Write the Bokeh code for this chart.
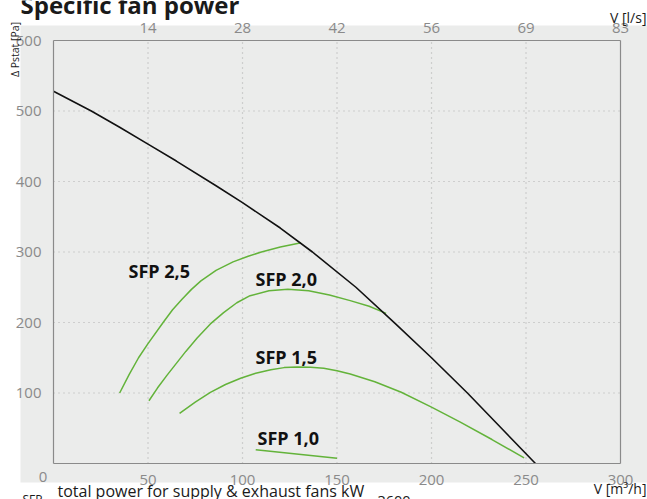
from math import pi
from bokeh.plotting import figure
from bokeh.models import Label, BoxAnnotation, LinearAxis, FixedTicker, Range1d, ColumnDataSource
from bokeh.core.properties import value
from bokeh.embed import file_html
from bokeh.resources import INLINE

# ---------------- data ----------------
x_min, x_max = 0, 300          # m3/h axis extent
y_min, y_max = 0, 600          # Pa axis extent
x_ticks = [50, 100, 150, 200, 250, 300]
x_tick_labels = ["50", "100", "150", "200", "250", "300"]
top_tick_labels = ["14", "28", "42", "56", "69", "83"]   # l/s
y_ticks = [100, 200, 300, 400, 500, 600]

fan_x = [0, 20, 35, 50, 65, 86, 100, 120, 137, 160, 181, 200, 219, 237, 255]
fan_y = [528, 500, 477, 453, 429, 394, 370, 334, 300, 250, 198, 150, 100, 50, 0]

sfp25_x = [35, 40, 45, 50, 58, 63, 68, 73, 78, 86, 95, 103, 110, 120, 131]
sfp25_y = [100, 126, 150, 170, 200, 218, 233, 247, 259, 274, 286, 294, 300, 307, 313]

sfp20_x = [50.5, 55, 60, 65, 70, 76, 83, 90, 97, 104, 114, 124, 135, 146, 157, 167, 176]
sfp20_y = [89, 107, 125, 142, 159, 178, 198, 214, 228, 238, 245, 247, 245, 239, 231, 223, 213]

sfp15_x = [66.7, 75, 83, 91, 99, 107, 115, 122, 129, 136, 143, 150, 157, 170, 184, 200, 215, 232, 249]
sfp15_y = [71, 87, 101, 112, 121, 128, 133, 136, 137, 136.5, 135, 131.5, 127, 116, 101, 80, 59, 34, 8]

sfp10_x = [107, 150]
sfp10_y = [19.5, 7.5]

sfp_names = ["SFP 2,5", "SFP 2,0", "SFP 1,5", "SFP 1,0"]

# ---------------- layout helpers (page pixels -> data) ----------------
W, H = 647, 499
FL, FR, FT, FB = 53, 620, 40, 463   # plot box edges in page pixels


def dx(px):
    return x_min + (px - FL) * (x_max - x_min) / (FR - FL)


def dy(py):
    return y_min + (FB - py) * (y_max - y_min) / (FB - FT)


BG = "#ebeceb"
GREEN = "#63b33a"
TICK_COLOR = "#8a8a8a"
BOX_COLOR = "#8a8a8a"
FONT = "Open Sans"

p = figure(width=W, height=H, x_range=Range1d(dx(0), dx(W)), y_range=Range1d(dy(H), dy(0)),
           output_backend="svg", toolbar_location=None,
           min_border=0, x_axis_location=None, y_axis_location=None)
p.border_fill_color = "white"
p.background_fill_color = "white"
p.outline_line_color = None
p.xgrid.visible = False
p.ygrid.visible = False

# gray panel behind the chart
p.add_layout(BoxAnnotation(left=dx(20), right=dx(W + 5), top=dy(25), bottom=dy(482),
                           fill_color=BG, fill_alpha=1.0, line_color=None, level="image"))

# grid (dotted), limited to the plot box
gx = x_ticks[:-1]
gy = y_ticks[:-1]
p.segment(x0=gx, x1=gx, y0=[y_min] * len(gx), y1=[y_max] * len(gx),
          line_color="#b0b0b0", line_dash="1 4", line_width=1.2, level="underlay")
p.segment(x0=[x_min] * len(gy), x1=[x_max] * len(gy), y0=gy, y1=gy,
          line_color="#b0b0b0", line_dash="1 4", line_width=1.2, level="underlay")


def style_axis(ax, standoff):
    ax.axis_line_color = BOX_COLOR
    ax.axis_line_width = 1.2
    ax.major_tick_line_color = None
    ax.minor_tick_line_color = None
    ax.major_label_text_font = FONT
    ax.major_label_text_font_size = "15px"
    ax.major_label_text_color = TICK_COLOR
    ax.major_label_standoff = standoff


left = LinearAxis(ticker=FixedTicker(ticks=y_ticks), fixed_location=x_min, bounds=(y_min, y_max))
style_axis(left, 6)
p.add_layout(left, "left")

right = LinearAxis(ticker=FixedTicker(ticks=[]), fixed_location=x_max, bounds=(y_min, y_max))
style_axis(right, 6)
p.add_layout(right, "right")

bottom = LinearAxis(ticker=FixedTicker(ticks=x_ticks), fixed_location=y_min, bounds=(x_min, x_max),
                    major_label_overrides=dict(zip(x_ticks, x_tick_labels)))
style_axis(bottom, 5)
p.add_layout(bottom, "below")

top = LinearAxis(ticker=FixedTicker(ticks=x_ticks), fixed_location=y_max, bounds=(x_min, x_max),
                 major_label_overrides=dict(zip(x_ticks, top_tick_labels)))
style_axis(top, 2)
p.add_layout(top, "above")

# curves
for xs, ys in [(sfp25_x, sfp25_y), (sfp20_x, sfp20_y), (sfp15_x, sfp15_y), (sfp10_x, sfp10_y)]:
    p.line(xs, ys, line_color=GREEN, line_width=1.5)
p.line(fan_x, fan_y, line_color="#111111", line_width=1.6)

# SFP labels
lab_src = ColumnDataSource(dict(
    x=[dx(128), dx(255), dx(255), dx(257)],
    y=[dy(270), dy(278), dy(356.5), dy(437.5)],
    t=sfp_names))
p.text(x="x", y="y", text="t", source=lab_src, text_font=value(FONT),
       text_font_style="bold", text_font_size="18px", text_color="#111111",
       text_baseline="middle", text_align="left")


def lab(text, px, py, size, align="left", baseline="middle", color="#1a1a1a",
        style="normal", angle=0):
    p.add_layout(Label(x=dx(px), y=dy(py), text=text, text_font=FONT,
                       text_font_size=size, text_align=align, text_baseline=baseline,
                       text_color=color, text_font_style=style, angle=angle))


lab("Specific fan power", 20, 4, "24px", style="bold")
lab("Δ Pstat [Pa]", 14, 49, "10.5px", align="center", angle=pi / 2)
lab("V [l/s]", 646, 16.5, "14px", align="right")
lab("V [m³/h]", 646, 488, "14px", align="right")
lab("0", 42.5, 476, "15px", align="center", color=TICK_COLOR)
lab("total power for supply & exhaust fans kW", 57, 490, "16px")
lab("SFP", 22, 499, "12px")
lab("3600", 377, 500, "14.5px")

open("out.html", "w").write(file_html(p, INLINE))
